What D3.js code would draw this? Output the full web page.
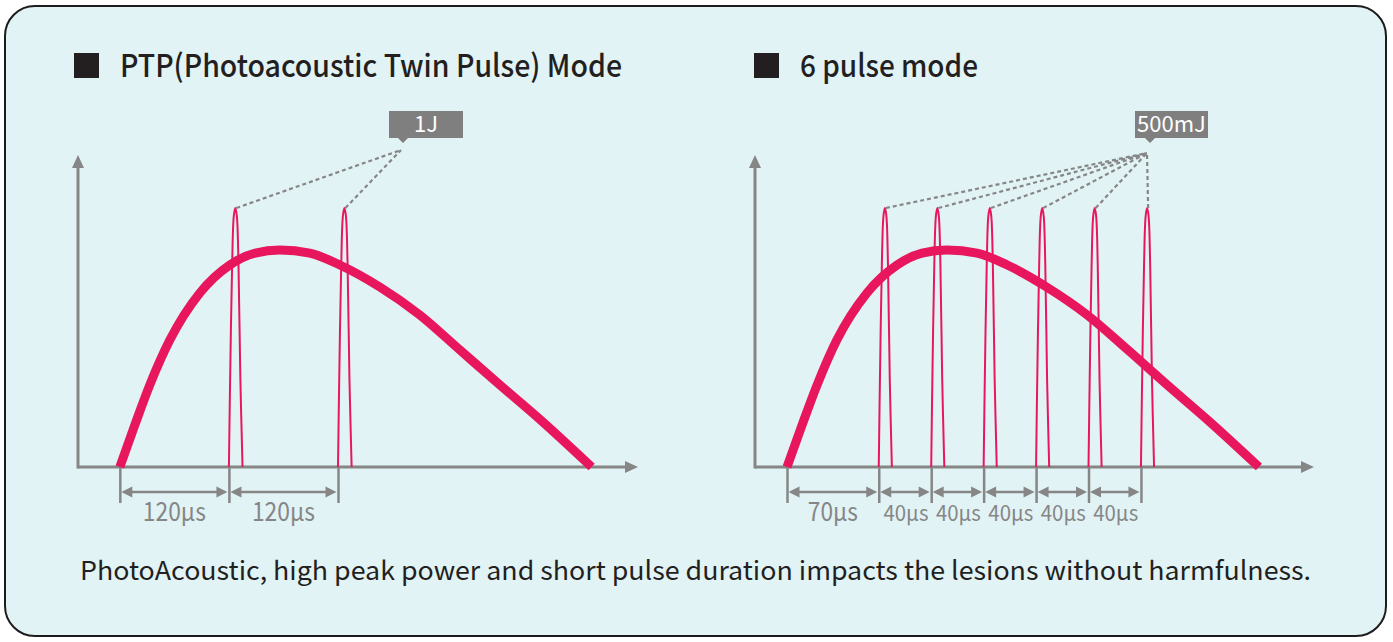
<!DOCTYPE html>
<html><head><meta charset="utf-8">
<script src="https://cdn.jsdelivr.net/npm/d3@7"></script>
<style>
html,body{margin:0;padding:0;background:#fff;}
svg{display:block;}
</style></head>
<body>
<svg id="chart" width="1393" height="642"></svg>
<script>
// ---------------- data ----------------
const titles = ["PTP(Photoacoustic Twin Pulse) Mode", "6 pulse mode"];
const caption = "PhotoAcoustic, high peak power and short pulse duration impacts the lesions without harmfulness.";
const energyLabels = ["1J", "500mJ"];

// slow background curve (relative amplitude, pulse peak = 100)
const curveAmp    = [0, 16.2, 31.7, 49, 67.2, 78, 82.6, 83.8, 82.6, 78, 69.5, 58.7, 45.2, 31.7, 18.1, 0];
const leftCurveT  = [0, 16.5, 33, 55, 88, 121, 149, 176, 209, 242, 286, 330, 374, 418, 463, 519];   // µs
const rightCurveT = [0, 11.5, 23, 38, 61, 84, 103, 122, 145, 168, 198, 229, 260, 290, 321, 360];    // µs

// pulse start times (µs) and widths
const leftPulses  = [120, 240];
const rightPulses = [70, 110, 150, 190, 230, 270];
const leftPulseWidth = 15, rightPulseWidth = 10;
const pulsePeak = 100;
// shape of one pulse: fraction of width, fraction of peak
const pulseShapeF = [0, 0.09, 0.24, 0.36, 0.47, 0.58, 0.70, 0.84, 1.0];
const pulseShapeA = [0, 0.34, 0.79, 0.97, 1.0, 0.97, 0.79, 0.34, 0];

// dimension marks (µs) and labels
const leftDims  = [0, 120, 240];
const leftDimLabels = ["120μs", "120μs"];
const rightDims = [0, 70, 110, 150, 190, 230, 270];
const rightDimLabels = ["70μs", "40μs", "40μs", "40μs", "40μs", "40μs"];

// ---------------- drawing ----------------
const svg = d3.select("#chart");
const PINK = "#e8175d", GRAY = "#868686", BG = "#e1f3f5";

svg.append("rect").attr("x", 5).attr("y", 6).attr("width", 1381).attr("height", 630)
  .attr("rx", 30).attr("fill", BG).attr("stroke", "#1c1c1c").attr("stroke-width", 2);

const y = d3.scaleLinear().domain([0, 100]).range([467, 208]);
const yTop = 120.5;

const panels = [
  {x: d3.scaleLinear().domain([-46, 570]).range([78, 638]), curveT: leftCurveT, pulses: leftPulses,
   pw: leftPulseWidth, dims: leftDims, dimLabels: leftDimLabels, title: titles[0], titleW: 502, sqX: 74,
   label: energyLabels[0], box: {x: 389, w: 74, tipX: 403, conv: [401, 150]}},
  {x: d3.scaleLinear().domain([-24.4, 402]).range([755, 1314]), curveT: rightCurveT, pulses: rightPulses,
   pw: rightPulseWidth, dims: rightDims, dimLabels: rightDimLabels, title: titles[1], titleW: 178, sqX: 754,
   label: energyLabels[1], box: {x: 1135, w: 73, tipX: 1150, conv: [1147, 153]}}
];

panels.forEach((p, pi) => {
  const g = svg.append("g");
  const x = p.x;
  const x0 = x.range()[0], x1 = x.range()[1];

  // title
  g.append("rect").attr("x", p.sqX).attr("y", 53).attr("width", 25).attr("height", 25).attr("fill", "#231f20");
  g.append("text").attr("x", p.sqX + 46).attr("y", 77)
    .attr("font-family", "'Noto Sans CJK KR', 'Noto Sans', sans-serif").attr("font-weight", 500)
    .attr("font-size", 31).attr("fill", "#231f20")
    .attr("textLength", p.titleW).attr("lengthAdjust", "spacingAndGlyphs")
    .text(p.title);

  // axes
  g.append("line").attr("x1", x0).attr("x2", x1 - 10).attr("y1", y(0)).attr("y2", y(0))
    .attr("stroke", GRAY).attr("stroke-width", 3);
  g.append("path").attr("d", `M${x1},${y(0)} L${x1 - 13},${y(0) - 6} L${x1 - 13},${y(0) + 6} Z`).attr("fill", GRAY);
  g.append("line").attr("x1", x0).attr("x2", x0).attr("y1", y(0) + 1.5).attr("y2", y(yTop) + 10)
    .attr("stroke", GRAY).attr("stroke-width", 3);
  g.append("path").attr("d", `M${x0},${y(yTop)} L${x0 - 6},${y(yTop) + 13} L${x0 + 6},${y(yTop) + 13} Z`).attr("fill", GRAY);

  // dimension ticks via d3 axis
  const ax = g.append("g").attr("transform", `translate(0,${y(0)})`)
    .call(d3.axisBottom(x).tickValues(p.dims).tickSize(36).tickFormat(""));
  ax.select(".domain").remove();
  ax.selectAll(".tick line").attr("stroke", GRAY).attr("stroke-width", 2.5);

  // dimension arrows + labels
  const dy = 492;
  for (let i = 0; i < p.dims.length - 1; i++) {
    const a = x(p.dims[i]) + 1.5, b = x(p.dims[i + 1]) - 1.5;
    g.append("line").attr("x1", a + 8).attr("x2", b - 8).attr("y1", dy).attr("y2", dy)
      .attr("stroke", GRAY).attr("stroke-width", 2.5);
    g.append("path").attr("d", `M${a},${dy} L${a + 11},${dy - 5.5} L${a + 11},${dy + 5.5} Z`).attr("fill", GRAY);
    g.append("path").attr("d", `M${b},${dy} L${b - 11},${dy - 5.5} L${b - 11},${dy + 5.5} Z`).attr("fill", GRAY);
    const lab = p.dimLabels[i];
    const small = lab.startsWith("40");
    const fs = small ? 22 : 26;
    const tl = lab.length === 5 ? 63 : (small ? 45 : 50);
    g.append("text").attr("x", (x(p.dims[i]) + x(p.dims[i + 1])) / 2 + (small ? 1 : 0)).attr("y", 521)
      .attr("text-anchor", "middle").attr("fill", GRAY)
      .attr("font-family", "'Noto Sans CJK KR', 'Noto Sans', sans-serif").attr("font-size", fs)
      .attr("textLength", tl).attr("lengthAdjust", "spacingAndGlyphs")
      .text(lab);
  }

  // background curve
  const cData = p.curveT.map((t, i) => [t, curveAmp[i]]);
  g.append("path").datum(cData)
    .attr("d", d3.line().x(d => x(d[0])).y(d => y(d[1])).curve(d3.curveMonotoneX))
    .attr("fill", "none").attr("stroke", PINK).attr("stroke-width", 9);

  // pulses
  const pLine = d3.line().x(d => x(d[0])).y(d => y(d[1])).curve(d3.curveCatmullRom.alpha(0.5));
  p.pulses.forEach(st => {
    const pts = pulseShapeF.map((f, i) => [st + f * p.pw, pulseShapeA[i] * pulsePeak]);
    g.append("path").datum(pts).attr("d", pLine)
      .attr("fill", "none").attr("stroke", PINK).attr("stroke-width", 2);
  });

  // leader lines
  p.pulses.forEach(st => {
    const px = x(st + 0.47 * p.pw);
    g.append("line").attr("x1", px + 1).attr("y1", y(pulsePeak)).attr("x2", p.box.conv[0]).attr("y2", p.box.conv[1])
      .attr("stroke", GRAY).attr("stroke-width", 2.2).attr("stroke-dasharray", "4,3");
  });

  // label box
  const by = 111, bh = 27;
  g.append("path").attr("d",
    `M${p.box.x},${by} H${p.box.x + p.box.w} V${by + bh} H${p.box.tipX + 5} L${p.box.tipX},${by + bh + 5} L${p.box.tipX - 5},${by + bh} H${p.box.x} Z`)
    .attr("fill", "#7f7f7f");
  g.append("text").attr("x", p.box.x + p.box.w / 2).attr("y", by + 20.5).attr("text-anchor", "middle")
    .attr("fill", "#fff").attr("font-family", "'Noto Sans CJK KR', 'Noto Sans', sans-serif")
    .attr("font-weight", 400).attr("font-size", 22).text(p.label);
});

// caption
svg.append("text").attr("x", 80).attr("y", 580)
  .attr("font-family", "'Noto Sans CJK KR', 'Noto Sans', sans-serif").attr("font-size", 26)
  .attr("fill", "#231f20").attr("textLength", 1231).attr("lengthAdjust", "spacingAndGlyphs")
  .text(caption);
</script>
</body></html>
